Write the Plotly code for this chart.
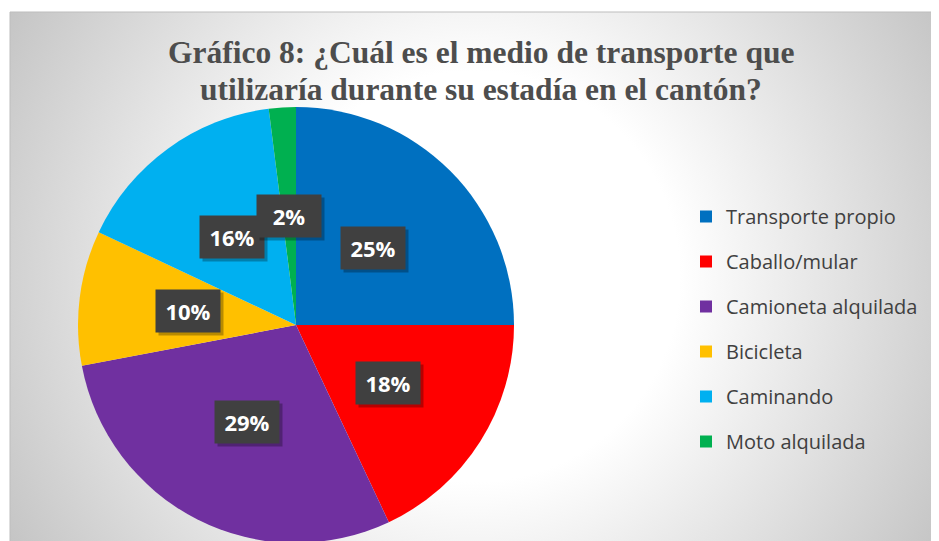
import base64
import math
import plotly.graph_objects as go

categories = ["Transporte propio", "Caballo/mular", "Camioneta alquilada",
              "Bicicleta", "Caminando", "Moto alquilada"]
values = [25, 18, 29, 10, 16, 2]
pct_labels = ["25%", "18%", "29%", "10%", "16%", "2%"]
colors = ["#0070C0", "#FF0000", "#7030A0", "#FFC000", "#00B0F0", "#00B050"]
title_lines = ["Gráfico 8: ¿Cuál es el medio de transporte que",
               "utilizaría durante su estadía en el cantón?"]

W, H = 939, 541
OFF = 8  # page body margin offset (figure drawn 8px right/down in the window)


def fx(px):  # window px -> paper x
    return (px - OFF) / W


def fy(py):  # window px (from top) -> paper y
    return 1 - (py - OFF) / H


# chart box in window pixels
bx0, by0, bx1, by1 = 10, 12, 939 + OFF, 541 + OFF

# pie placement in window pixels
pcx, pcy, pr = 296.0, 325.0, 218.0
dom_x = [fx(pcx - pr), fx(pcx + pr)]
dom_y = [fy(pcy + pr), fy(pcy - pr)]

bw, bh = bx1 - bx0, by1 - by0
svg = f'''<svg xmlns="http://www.w3.org/2000/svg" width="{bw}" height="{bh}">
<defs><radialGradient id="g" gradientUnits="userSpaceOnUse" cx="{(939-bx0)/2}" cy="{(541-by0)/2}" r="540">
<stop offset="0" stop-color="#ffffff"/><stop offset="0.38" stop-color="#ffffff"/>
<stop offset="1" stop-color="#c4c4c4"/></radialGradient></defs>
<rect width="100%" height="100%" fill="url(#g)"/></svg>'''
src = "data:image/svg+xml;base64," + base64.b64encode(svg.encode()).decode()

fig = go.Figure()
fig.add_trace(go.Pie(
    labels=categories, values=values, sort=False, direction="clockwise",
    rotation=0, marker=dict(colors=colors, line=dict(width=0)),
    textinfo="none", hoverinfo="label+percent", showlegend=False,
    domain=dict(x=dom_x, y=dom_y),
))

# legend entries
for i, (c, col) in enumerate(zip(categories, colors)):
    fig.add_trace(go.Scatter(
        x=[None], y=[None], mode="markers", name=c,
        marker=dict(symbol="square", size=12, color=col),
        legendgroup=f"g{i}", showlegend=True,
    ))

# data labels
total = sum(values)
cum = 0
annotations = []
label_r = 0.5 * pr
for v, t in zip(values, pct_labels):
    th = 2 * math.pi * (cum + v / 2) / total
    cum += v
    px = pcx + label_r * math.sin(th)
    py = pcy - label_r * math.cos(th)
    annotations.append(dict(
        x=fx(px), y=fy(py), xref="paper", yref="paper", text="", showarrow=False,
        xanchor="center", yanchor="middle",
        width=58, height=36, bgcolor="rgba(0,0,0,0.28)", borderpad=3,
        xshift=3, yshift=-3,
    ))
    annotations.append(dict(
        x=fx(px), y=fy(py), xref="paper", yref="paper", text=f"<b>{t}</b>",
        showarrow=False, xanchor="center", yanchor="middle",
        width=58, height=36, bgcolor="#404040", borderpad=3,
        font=dict(family="Open Sans", size=22, color="#ffffff"),
    ))

# title lines
for line, yc in zip(title_lines, [52.5, 89.0]):
    annotations.append(dict(
        x=fx(481), y=fy(yc), xref="paper", yref="paper", text=f"<b>{line}</b>",
        showarrow=False, xanchor="center", yanchor="middle",
        font=dict(family="Liberation Serif", size=31.5, color="#4d4d4d"),
    ))

fig.update_layout(
    width=W, height=H,
    margin=dict(l=0, r=0, t=0, b=0),
    paper_bgcolor="#ffffff", plot_bgcolor="rgba(0,0,0,0)",
    xaxis=dict(visible=False), yaxis=dict(visible=False),
    legend=dict(x=fx(686), y=fy(197), xanchor="left", yanchor="top",
                font=dict(family="Open Sans", size=20, color="#404040"),
                bgcolor="rgba(0,0,0,0)", tracegroupgap=16),
    images=[dict(source=src, xref="paper", yref="paper", x=fx(bx0), y=fy(by0),
                 sizex=bw / W, sizey=bh / H, sizing="stretch",
                 xanchor="left", yanchor="top", layer="below")],
    shapes=[dict(type="rect", xref="paper", yref="paper", x0=fx(bx0), y0=-0.05,
                 x1=1.05, y1=fy(by0), line=dict(color="#bdbdbd", width=1),
                 layer="below")],
    annotations=annotations,
    showlegend=True,
)

fig.write_html("out.html")
